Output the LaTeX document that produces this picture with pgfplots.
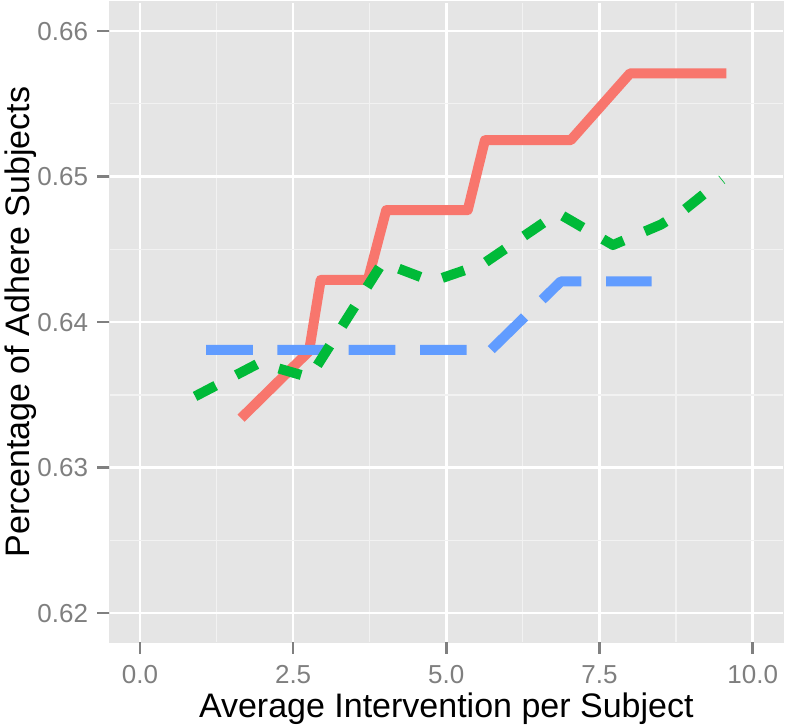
\documentclass[border=0pt]{standalone}
\usepackage{fontspec}
\setmainfont{Liberation Sans}
\usepackage{pgfplots}
\pgfplotsset{compat=1.18}
\definecolor{pred}{HTML}{F8766D}
\definecolor{pgreen}{HTML}{00BA38}
\definecolor{pblue}{HTML}{619CFF}
\definecolor{panel}{HTML}{E5E5E5}
\definecolor{minorg}{HTML}{F2F2F2}
\definecolor{tickg}{HTML}{7F7F7F}
\begin{document}
\begin{tikzpicture}
\begin{axis}[
  name=ax,
  scale only axis, width=674bp, height=640.3bp,
  xmin=-0.5, xmax=10.5, ymin=0.618, ymax=0.662,
  axis background/.style={fill=panel},
  xtick={0,2.5,5,7.5,10}, xticklabels={0.0,2.5,5.0,7.5,10.0},
  ytick={0.62,0.63,0.64,0.65,0.66}, yticklabels={0.62,0.63,0.64,0.65,0.66},
  minor xtick={1.25,3.75,6.25,8.75},
  minor ytick={0.625,0.635,0.645,0.655},
  grid=both,
  major grid style={draw=white, line width=2.5bp},
  minor grid style={draw=minorg, line width=1.2bp},
  tick align=outside, tickpos=left,
  major tick length=11bp, minor tick length=0pt,
  tick style={draw=black!50, line width=2.5bp},
  ticklabel style={font=\fontsize{26bp}{26bp}\selectfont, text=tickg, inner sep=0pt},
  yticklabel style={anchor=east, xshift=-10bp},
  xticklabel style={anchor=north, yshift=-12bp},
  xlabel={Average Intervention per Subject},
  ylabel={Percentage of Adhere Subjects},
  xlabel style={at={(axis description cs:0.5,-0.11667)}, anchor=base, inner sep=0pt, font=\fontsize{34bp}{34bp}\selectfont},
  ylabel style={at={(axis description cs:-0.11766,0.5)}, rotate=0, anchor=base, inner sep=0pt, font=\fontsize{34bp}{34bp}\selectfont},
]
\addplot[pred, line width=10bp, line join=round, line cap=butt] coordinates {
(1.65,0.6334) (2.76,0.6380) (2.95,0.6429) (3.72,0.6429) (4.02,0.6477) (5.35,0.6477)
(5.63,0.6525) (7.03,0.6525) (8.00,0.6571) (9.57,0.6571)};
\addplot[pblue, line width=10bp, line join=round, line cap=butt, dash pattern=on 46.7bp off 24.6bp] coordinates {
(1.08,0.6381) (5.73,0.6381) (6.87,0.6428) (8.35,0.6428)};
\addplot[pgreen, line width=10bp, line join=round, line cap=butt, dash pattern=on 23.2bp off 23.2bp] coordinates {
(0.90,0.6349) (1.95,0.6372) (2.77,0.6362) (3.96,0.6441) (4.77,0.6428) (5.60,0.6440)
(6.82,0.6475) (7.72,0.6453) (8.50,0.6467) (8.85,0.6476) (9.50,0.6498)};
% tick positions on the panel edges
\coordinate (ya) at (axis cs:-0.5,0.62);
\coordinate (yb) at (axis cs:-0.5,0.63);
\coordinate (yc) at (axis cs:-0.5,0.64);
\coordinate (yd) at (axis cs:-0.5,0.65);
\coordinate (ye) at (axis cs:-0.5,0.66);
\coordinate (xa) at (axis cs:0,0.618);
\coordinate (xb) at (axis cs:2.5,0.618);
\coordinate (xc) at (axis cs:5,0.618);
\coordinate (xd) at (axis cs:7.5,0.618);
\coordinate (xe) at (axis cs:10,0.618);
\end{axis}
% cover the thin axis box so that only the grey panel shows, as in ggplot
\draw[panel, line width=1.2bp] (ax.south west) rectangle (ax.north east);
% short grey ticks outside the panel
\foreach \c in {ya,yb,yc,yd,ye} {
  \draw[draw=black!50, line width=2.5bp, line cap=butt] (\c) -- ++(-12bp,0pt);
}
\foreach \c in {xa,xb,xc,xd,xe} {
  \draw[draw=black!50, line width=2.5bp, line cap=butt] (\c) -- ++(0pt,-12bp);
}
\pgfresetboundingbox
\path[use as bounding box] ([xshift=-109.3bp,yshift=-85.7bp]ax.south west) rectangle ([xshift=3.7bp,yshift=2bp]ax.north east);
\end{tikzpicture}
\end{document}
